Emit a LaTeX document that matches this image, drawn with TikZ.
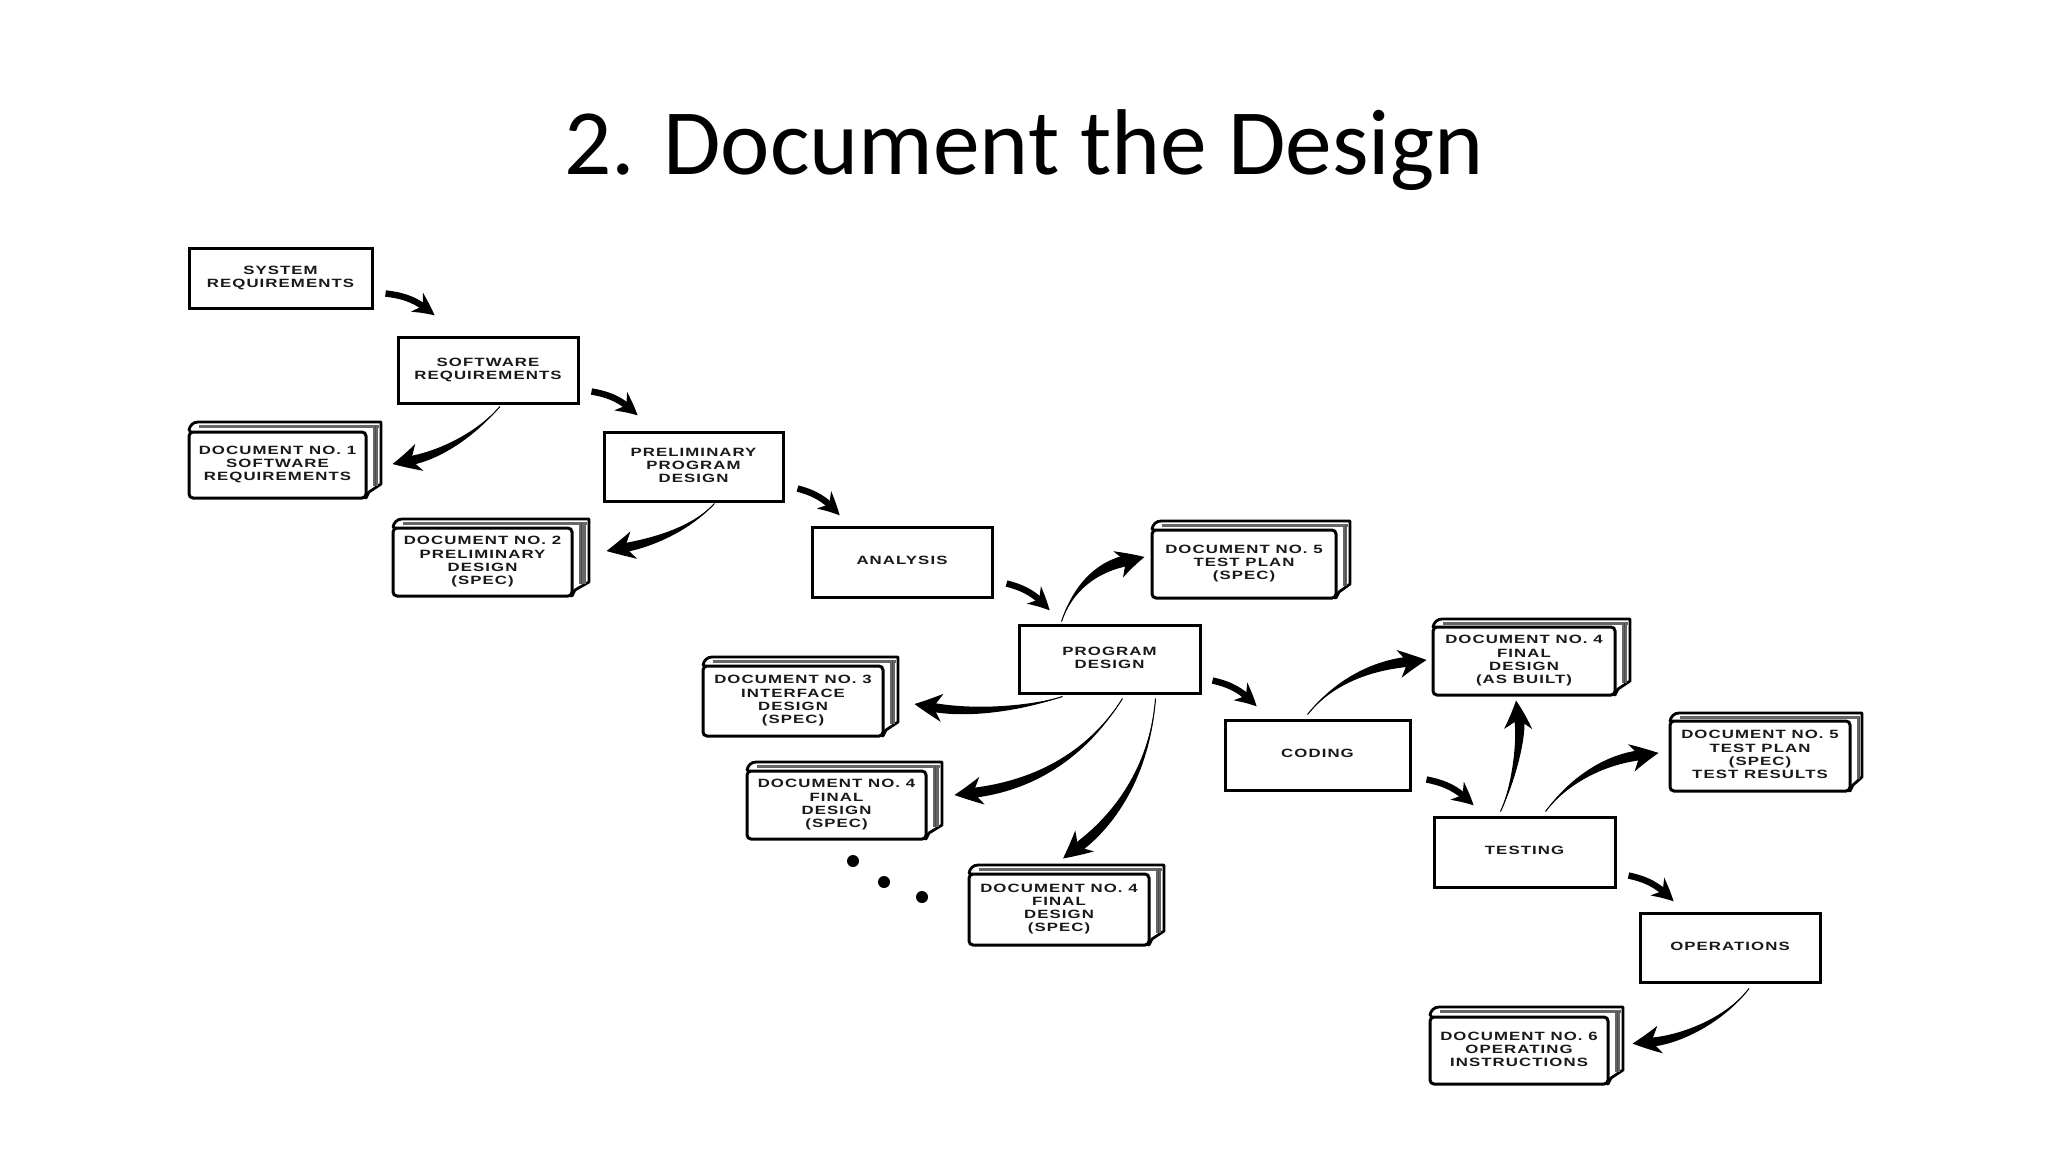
\documentclass[tikz,border=0pt]{standalone}
\usepackage{fontspec}
\usetikzlibrary{arrows.meta,calc,bending}
\setmainfont{Carlito}
\newfontfamily\boxfont[FakeStretch=1.4,LetterSpace=9]{Liberation Sans Bold}
\tikzset{
  x=0.5pt,y=-0.5pt,
  boxlabel/.style={font=\boxfont\fontsize{6pt}{6.55pt}\selectfont,text=black!90},
  titletext/.style={font=\fontsize{46.7pt}{52pt}\selectfont,text=black,inner sep=0pt},
  stagebox/.style={boxlabel,draw=black,line width=1.5pt,fill=white,rectangle,inner sep=0pt,align=center},
  docfront/.style={boxlabel,draw=black,line width=1.5pt,fill=white,rectangle,rounded corners=2pt,inner sep=0pt,align=center},
  docback/.style={draw=black,line width=1.4pt,fill=white,line join=round},
  pageline/.style={draw=black!70,line width=0.35pt},
  stepflow/.style={draw=black,line width=3.2pt,-{Stealth[length=11pt,width=11pt,inset=3.5pt,bend]}},
  docflow/.style={draw=black,line width=0.5pt,-{Stealth[length=14pt,width=14pt,inset=4.5pt,bend]}},
  dotmark/.style={circle,fill=black,inner sep=0pt,minimum size=6pt},
}
% name x1 y1 x2 y2 text
\newcommand{\stage}[6]{%
  \node[stagebox,minimum width={(#4-#2)*0.5pt},minimum height={(#5-#3)*0.5pt}] (#1) at ({(#2+#4)/2},{(#3+#5)/2}) {\raisebox{0.5pt}{\begin{tabular}{@{}c@{}}#6\end{tabular}}};
}
% name x1 y1 x2 y2 backx topy text
\newcommand{\docu}[8]{%
  \path[docback] (#2+2,#3) -- (#2,#7+8) to[out=80,in=180] (#2+9,#7) -- (#6,#7) -- (#6,#5-14) -- (#4+3,#5-6) -- (#4,#5) -- cycle;
  \path[fill=black!60] (#2+10,#7+3) rectangle (#6-2,#7+5.5);
  \path[fill=black!60] (#4+7,#7+4) rectangle (#6-3,#5-12);
  \draw[pageline] (#4+9,#7+4) -- (#4+9,#5-12);
  \node[docfront,minimum width={(#4-#2)*0.5pt},minimum height={(#5-#3)*0.5pt}] (#1) at ({(#2+#4)/2},{(#3+#5)/2}) {\begin{tabular}{@{}c@{}}#8\end{tabular}};
}
\newcommand{\stepconn}[6]{%
  \draw[stepflow] ($(#1.south east)+(#2,#3)$) to[bend left=18] ($(#4.north west)+(#5,#6)$);
}
% tapered connector: anchor, offset, anchor, offset, c1, c2, half width in px
\newcommand{\docconn}[7]{%
  \coordinate (cs) at ($(#1)+(#2)$);
  \coordinate (ce) at ($(#3)+(#4)$);
  \coordinate (ca) at (#5);
  \coordinate (cb) at (#6);
  \coordinate (cf) at ($(ce)!9pt!(cb)$);
  \fill[black] (cs) .. controls ($(ca)!0.6pt!90:(cb)$) and ($(cb)!0.5*#7pt!90:(cf)$) .. ($(cf)!0.5*#7pt!-90:(cb)$)
     -- ($(cf)!0.5*#7pt!90:(cb)$) .. controls ($(cb)!0.5*#7pt!-90:(cf)$) and ($(ca)!0.6pt!-90:(cb)$) .. (cs) -- cycle;
  \draw[docflow] (cs) .. controls (ca) and (cb) .. (ce);
}
\begin{document}
\begin{tikzpicture}
\useasboundingbox[fill=white] (0,0) rectangle (2048,1152);
\node[titletext] (title) at (1024,150) {2. Document the Design};

\stage{sysreq}{189}{248}{372}{308}{SYSTEM\\REQUIREMENTS}
\stage{softreq}{398}{337}{578}{403}{SOFTWARE\\REQUIREMENTS}
\stage{prelim}{604}{432}{783}{501}{PRELIMINARY\\PROGRAM\\DESIGN}
\stage{analysis}{812}{527}{992}{597}{ANALYSIS}
\stage{progdes}{1019}{625}{1200}{693}{PROGRAM\\DESIGN}
\stage{coding}{1225}{720}{1410}{790}{CODING}
\stage{testing}{1434}{817}{1615}{887}{TESTING}
\stage{operations}{1640}{913}{1820}{982}{OPERATIONS}

\docu{docone}{189}{432}{366}{498}{381}{422}{DOCUMENT NO. 1\\SOFTWARE\\REQUIREMENTS}
\docu{doctwo}{393}{528}{572}{596}{589}{519}{DOCUMENT NO. 2\\PRELIMINARY\\DESIGN\\(SPEC)}
\docu{docfive}{1152}{530}{1336}{598}{1350}{521}{DOCUMENT NO. 5\\TEST PLAN\\(SPEC)}
\docu{docthree}{703}{666}{883}{736}{898}{657}{DOCUMENT NO. 3\\INTERFACE\\DESIGN\\(SPEC)}
\docu{docfoura}{747}{771}{926}{839}{942}{762}{DOCUMENT NO. 4\\FINAL\\DESIGN\\(SPEC)}
\docu{docfourb}{969}{874}{1149}{945}{1164}{865}{DOCUMENT NO. 4\\FINAL\\DESIGN\\(SPEC)}
\docu{docfourc}{1433}{627}{1615}{695}{1630}{619}{DOCUMENT NO. 4\\FINAL\\DESIGN\\(AS BUILT)}
\docu{docfiveb}{1670}{721}{1850}{791}{1862}{713}{DOCUMENT NO. 5\\TEST PLAN\\(SPEC)\\TEST RESULTS}
\docu{docsix}{1430}{1017}{1608}{1084}{1623}{1007}{DOCUMENT NO. 6\\OPERATING\\INSTRUCTIONS}

\node[dotmark] (dota) at (853,861) {};
\node[dotmark] (dotb) at (884,882) {};
\node[dotmark] (dotc) at (922,897) {};

\stepconn{sysreq}{12}{-16}{softreq}{38}{-20}
\stepconn{softreq}{12}{-13}{prelim}{35}{-15}
\stepconn{prelim}{13}{-14}{analysis}{29}{-10}
\stepconn{analysis}{13}{-15}{progdes}{32}{-13}
\stepconn{progdes}{11}{-14}{coding}{33}{-12}
\stepconn{coding}{15}{-12}{testing}{41}{-10}
\stepconn{testing}{12}{-13}{operations}{35}{-10}

\docconn{softreq.south}{12,2}{docone.east}{25,-1}{475,435}{440,455}{4.5}
\docconn{prelim.south}{21,1}{doctwo.east}{33,-11}{690,530}{650,543}{4.5}
\docconn{progdes.north}{-48,-2}{docfive.west}{-6,-7}{1072,590}{1095,567}{5.5}
\docconn{progdes.south}{-47,2}{docthree.east}{30,3}{1030,707}{975,715}{4.5}
\docconn{progdes.south}{13,4}{docfoura.east}{27,-10}{1090,750}{1040,785}{5}
\docconn{progdes.south}{46,4}{docfourb.north}{4,-14}{1150,770}{1115,820}{5}
\docconn{coding.north}{-10,-4}{docfourc.west}{-5,-1}{1335,680}{1375,665}{5}
\docconn{testing.north}{-24,-4}{docfourc.south}{-8,4}{1515,780}{1522,735}{5}
\docconn{testing.north}{21,-4}{docfiveb.west}{-10,-3}{1565,785}{1600,760}{5}
\docconn{operations.south}{19,5}{docsix.east}{23,-7}{1725,1020}{1680,1040}{4.5}
\end{tikzpicture}
\end{document}
